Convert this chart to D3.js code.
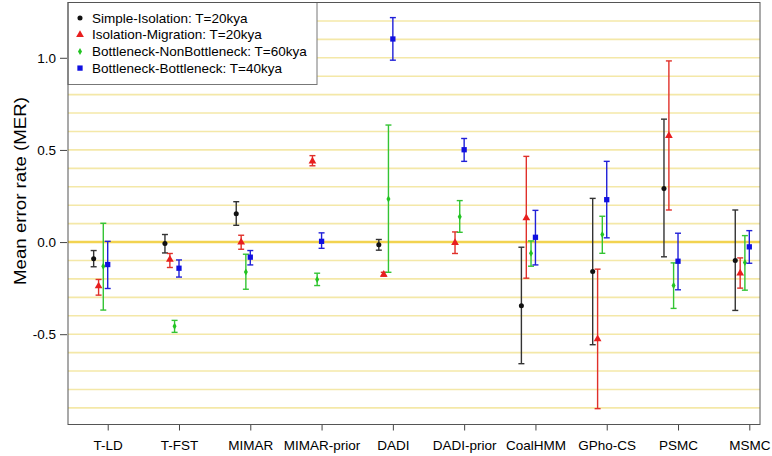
<!DOCTYPE html>
<html><head><meta charset="utf-8">
<script src="https://cdn.jsdelivr.net/npm/d3@7"></script>
<style>body{margin:0;background:#fff}svg{display:block}text{font-family:"Liberation Sans",Arial,sans-serif;fill:#000}</style>
</head><body><svg id="c" width="772" height="456"></svg>
<script>
const categories = ["T-LD","T-FST","MIMAR","MIMAR-prior","DADI","DADI-prior","CoalHMM","GPho-CS","PSMC","MSMC"];
const seriesNames = ["Simple-Isolation: T=20kya","Isolation-Migration: T=20kya","Bottleneck-NonBottleneck: T=60kya","Bottleneck-Bottleneck: T=40kya"];
const blackMean = [-0.091,-0.008,0.154,null,-0.015,null,-0.346,-0.16,0.29,-0.1];
const blackLo   = [-0.134,-0.059,0.091,null,-0.044,null,-0.66,-0.557,-0.08,-0.371];
const blackHi   = [-0.046,0.041,0.219,null,0.014,null,-0.028,0.237,0.667,0.174];
const redMean = [-0.239,-0.095,-0.001,0.438,-0.176,-0.004,0.131,-0.526,0.577,-0.169];
const redLo   = [-0.288,-0.138,-0.039,0.414,-0.185,-0.062,-0.196,-0.904,0.174,-0.25];
const redHi   = [-0.203,-0.062,0.037,0.469,-0.164,0.055,0.465,-0.147,0.983,-0.086];
const greenMean = [-0.131,-0.457,-0.162,-0.203,0.234,0.137,-0.061,0.041,-0.236,-0.111];
const greenLo   = [-0.369,-0.49,-0.256,-0.236,-0.164,0.053,-0.131,-0.061,-0.36,-0.261];
const greenHi   = [0.102,-0.425,-0.066,-0.169,0.635,0.225,0.006,0.14,-0.113,0.035];
const blueMean = [-0.122,-0.142,-0.082,0.004,1.102,0.501,0.026,0.23,-0.104,-0.026];
const blueLo   = [-0.252,-0.19,-0.124,-0.034,0.987,0.438,-0.124,0.023,-0.259,-0.115];
const blueHi   = [0.004,-0.097,-0.046,0.05,1.218,0.562,0.172,0.438,0.048,0.062];
const yTicks = [-0.5,0.0,0.5,1.0];
const gridValues = d3.range(-9,13).map(k=>k/10);

const series = [
  {name:seriesNames[0], mean:blackMean, lo:blackLo, hi:blackHi, color:"#111", bar:"#333", shape:"circle", off:-0.197},
  {name:seriesNames[1], mean:redMean, lo:redLo, hi:redHi, color:"#e81e1e", bar:"#e0302a", shape:"triangle", off:-0.128},
  {name:seriesNames[2], mean:greenMean, lo:greenLo, hi:greenHi, color:"#22c422", bar:"#33c433", shape:"diamond", off:-0.062},
  {name:seriesNames[3], mean:blueMean, lo:blueLo, hi:blueHi, color:"#1010e0", bar:"#2020d8", shape:"square", off:0}
];

const L=68,R=760,T=2.5,B=424.5;
const x = d3.scaleLinear().domain([-0.557,9.15]).range([L,R]);
const y = d3.scaleLinear().domain([-0.99,1.3]).range([B,T]);
const svg = d3.select("#c");

// grid
svg.append("g").selectAll("line").data(gridValues).join("line")
  .attr("x1",L).attr("x2",R).attr("y1",d=>y(d)).attr("y2",d=>y(d))
  .attr("stroke",d=>Math.abs(d)<1e-9?"#f2d350":"#f4e8a8")
  .attr("stroke-width",d=>Math.abs(d)<1e-9?2.5:1.6);

// axes
const yAxis = d3.axisLeft(y).tickValues(yTicks).tickFormat(d3.format(".1f")).tickSize(7).tickPadding(4);
const gy = svg.append("g").attr("transform",`translate(${L-1},0)`).call(yAxis);
gy.select(".domain").remove();
gy.selectAll("line").attr("stroke","#444");
gy.selectAll("text").style("font-size","13.5px").attr("dy","0.35em").text(d=>d<0?"-"+d3.format(".1f")(-d):d3.format(".1f")(d));

const xAxis = d3.axisBottom(x).tickValues(d3.range(categories.length)).tickFormat(i=>categories[i]).tickSize(6).tickPadding(10);
const gx = svg.append("g").attr("transform",`translate(0,${B})`).call(xAxis);
gx.select(".domain").remove();
gx.selectAll("line").attr("stroke","#444");
gx.selectAll("text").style("font-size","13.5px");

svg.append("text").attr("transform","translate(26,191) rotate(-90)")
  .attr("text-anchor","middle").style("font-size","16px")
  .attr("textLength",188).attr("lengthAdjust","spacingAndGlyphs").text("Mean error rate (MER)");

// error bars & points
const cap=3;
function sym(shape){
  const m={circle:[d3.symbolCircle,20],triangle:[d3.symbolTriangle,26],diamond:[d3.symbolDiamond,14],square:[d3.symbolSquare,28]};
  return d3.symbol().type(m[shape][0]).size(m[shape][1]);
}
series.forEach(s=>{
  const idx = d3.range(categories.length).filter(i=>s.mean[i]!=null);
  const g = svg.append("g");
  const px = i=>x(i+s.off);
  g.selectAll(".v").data(idx).join("line").attr("x1",px).attr("x2",px)
    .attr("y1",i=>y(s.lo[i])).attr("y2",i=>y(s.hi[i])).attr("stroke",s.bar).attr("stroke-width",1.4);
  ["lo","hi"].forEach(k=>{
    g.selectAll(".c"+k).data(idx).join("line").attr("x1",i=>px(i)-cap).attr("x2",i=>px(i)+cap)
      .attr("y1",i=>y(s[k][i])).attr("y2",i=>y(s[k][i])).attr("stroke",s.bar).attr("stroke-width",1.4);
  });
  g.selectAll("path").data(idx).join("path").attr("d",sym(s.shape))
    .attr("transform",i=>`translate(${px(i)},${y(s.mean[i])})`).attr("fill",s.color);
});

// legend
const lg = svg.append("g");
lg.append("rect").attr("x",L).attr("y",T).attr("width",249).attr("height",82)
  .attr("fill","#fff").attr("stroke","#777").attr("stroke-width",1);
series.forEach((s,k)=>{
  const yy = 18 + k*16.7;
  lg.append("path").attr("d",sym(s.shape)).attr("transform",`translate(80,${yy})`).attr("fill",s.color);
  lg.append("text").attr("x",92).attr("y",yy).attr("dy","0.35em").style("font-size","13.5px").text(s.name);
});

// plot box
svg.append("rect").attr("x",L).attr("y",T).attr("width",R-L).attr("height",B-T)
  .attr("fill","none").attr("stroke","#555").attr("stroke-width",1);
</script></body></html>
